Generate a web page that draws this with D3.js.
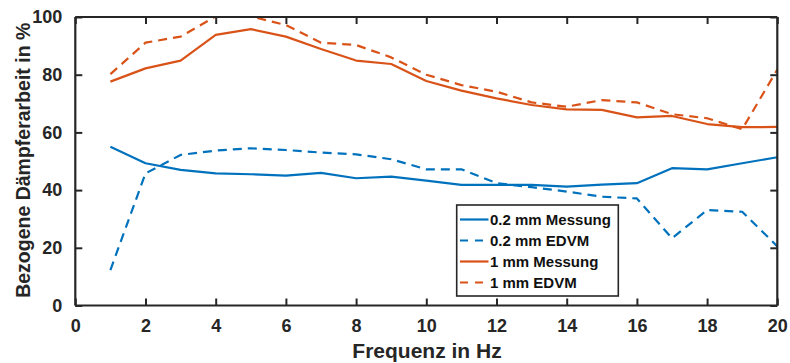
<!DOCTYPE html>
<html>
<head>
<meta charset="utf-8">
<script src="https://cdn.jsdelivr.net/npm/d3@7"></script>
<style>
  html, body { margin: 0; padding: 0; background: #fff; }
  svg { display: block; font-family: "Liberation Sans", Arial, sans-serif; font-weight: bold; }
</style>
</head>
<body>
<svg id="chart" width="790" height="363"></svg>
<script>
// Frequencies (Hz)
const frequencies = [1,2,3,4,5,6,7,8,9,10,11,12,13,14,15,16,17,18,19,20];

// Related damper work (%) per configuration
const mess02 = [55.0,49.3,47.0,45.8,45.5,45.0,46.0,44.1,44.7,43.3,41.8,41.8,41.8,41.2,41.9,42.4,47.6,47.2,49.3,51.4];
const edvm02 = [12.3,45.8,52.2,53.7,54.5,53.9,53.0,52.4,50.7,47.2,47.2,42.4,41.0,39.5,37.7,37.1,23.3,33.1,32.5,20.5];
const mess1  = [77.6,82.2,84.9,93.8,95.8,93.2,88.9,84.9,83.7,77.8,74.5,71.8,69.5,68.0,67.8,65.2,65.7,62.9,61.8,61.9];
const edvm1  = [80.2,91.1,93.2,100.2,100.2,97.2,91.1,90.3,86.0,80.0,76.4,74.1,70.4,68.9,71.2,70.4,66.3,64.9,61.1,81.8];

const seriesNames = ["0.2 mm Messung","0.2 mm EDVM","1 mm Messung","1 mm EDVM"];
const xTicks = [0,2,4,6,8,10,12,14,16,18,20];
const yTicks = [0,20,40,60,80,100];

const blue = "#0072BD", orange = "#D95319", axisCol = "#262626";
const series = [
  {name: seriesNames[0], values: mess02, color: blue,   dash: null},
  {name: seriesNames[1], values: edvm02, color: blue,   dash: "9,6"},
  {name: seriesNames[2], values: mess1,  color: orange, dash: null},
  {name: seriesNames[3], values: edvm1,  color: orange, dash: "9,6"}
];

const svg = d3.select("#chart");
const pLeft = 75.3, pRight = 777.3, pTop = 17, pBottom = 305.5;
const x = d3.scaleLinear().domain([0,20]).range([pLeft,pRight]);
const y = d3.scaleLinear().domain([0,100]).range([pBottom,pTop]);

svg.append("clipPath").attr("id","plotclip")
  .append("rect").attr("x",pLeft).attr("y",pTop).attr("width",pRight-pLeft).attr("height",pBottom-pTop);

// data lines
const line = d3.line().x((d,i) => x(frequencies[i])).y(d => y(d));
const lines = svg.append("g").attr("clip-path","url(#plotclip)");
series.forEach(s => {
  lines.append("path")
    .attr("d", line(s.values))
    .attr("fill","none")
    .attr("stroke", s.color)
    .attr("stroke-width", 2.2)
    .attr("stroke-linejoin","round")
    .attr("stroke-dasharray", s.dash);
});

// axes with inward ticks, box around plot
const tickLen = 7;
const fs = "18px";
const xAxis = svg.append("g").attr("transform",`translate(0,${pBottom})`)
  .call(d3.axisBottom(x).tickValues(xTicks).tickSize(-tickLen).tickPadding(tickLen + 7));
const yAxis = svg.append("g").attr("transform",`translate(${pLeft},0)`)
  .call(d3.axisLeft(y).tickValues(yTicks).tickSize(-tickLen).tickPadding(tickLen + 6));
const xTop = svg.append("g").attr("transform",`translate(0,${pTop})`)
  .call(d3.axisTop(x).tickValues(xTicks).tickSize(-tickLen).tickFormat(""));
const yRight = svg.append("g").attr("transform",`translate(${pRight},0)`)
  .call(d3.axisRight(y).tickValues(yTicks).tickSize(-tickLen).tickFormat(""));

[xAxis, yAxis, xTop, yRight].forEach(g => {
  g.select(".domain").attr("stroke", axisCol).attr("stroke-width", 2.2);
  g.selectAll(".tick line").attr("stroke", axisCol).attr("stroke-width", 2);
  g.selectAll(".tick text").attr("fill", axisCol).style("font-size", fs)
    .style("font-family","'Liberation Sans', Arial, sans-serif").style("font-weight","bold");
});
// plain box edges without end stubs
xAxis.select(".domain").attr("d", `M${pLeft},0H${pRight}`);
xTop.select(".domain").attr("d", `M${pLeft},0H${pRight}`);
yAxis.select(".domain").attr("d", `M0,${pTop}V${pBottom}`);
yRight.select(".domain").attr("d", `M0,${pTop}V${pBottom}`);

// axis titles
svg.append("text")
  .attr("x", 427).attr("y", 358)
  .attr("text-anchor","middle").attr("fill", axisCol)
  .style("font-size","21px")
  .text("Frequenz in Hz");
svg.append("text")
  .attr("transform", `translate(30,${(pTop+pBottom)/2 - 1}) rotate(-90)`)
  .attr("text-anchor","middle").attr("fill", axisCol)
  .style("font-size","19.5px")
  .text("Bezogene Dämpferarbeit in %");

// legend
const lg = svg.append("g");
const lx = 456.7, ly = 205, lw = 161.6, lh = 91;
lg.append("rect").attr("x",lx).attr("y",ly).attr("width",lw).attr("height",lh)
  .attr("fill","#fff").attr("stroke",axisCol).attr("stroke-width",1.6);
const rowY = [219.5, 240.5, 261.5, 282.5];
series.forEach((s,i) => {
  lg.append("line")
    .attr("x1", 460).attr("x2", 488.5)
    .attr("y1", rowY[i]).attr("y2", rowY[i])
    .attr("stroke", s.color).attr("stroke-width", 2.2)
    .attr("stroke-dasharray", s.dash ? "8,7" : null);
  lg.append("text")
    .attr("x", 490).attr("y", rowY[i]).attr("dy","0.35em")
    .attr("fill", "#111").style("font-size","15px")
    .text(s.name);
});
</script>
</body>
</html>
